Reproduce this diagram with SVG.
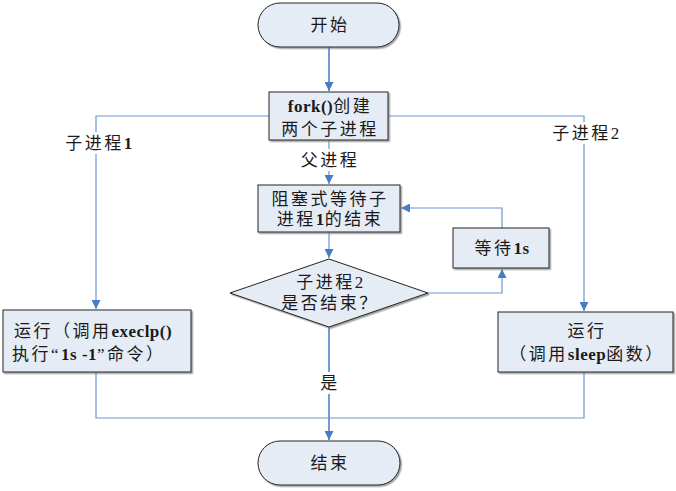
<svg xmlns="http://www.w3.org/2000/svg" width="676" height="491" viewBox="0 0 676 491">
<defs>
<marker id="ah" viewBox="0 0 10 10" refX="10" refY="5" markerWidth="9" markerHeight="9" markerUnits="userSpaceOnUse" orient="auto">
<path d="M0,0 L10,5 L0,10 z" fill="#4a7cc6"/>
</marker>
<filter id="sh" x="-5%" y="-5%" width="110%" height="115%">
<feDropShadow dx="1.5" dy="1.5" stdDeviation="0.5" flood-color="#777" flood-opacity="0.7"/>
</filter>
</defs>
<style>
.box{fill:#e6ecf6;stroke:#222;stroke-width:1;filter:url(#sh)}
.ln{fill:none;stroke:#6a96d4;stroke-width:1.2}
.mn{stroke:#4f81c8;stroke-width:1.6}
.t{font-family:"Liberation Serif","Noto Sans CJK SC",serif;font-size:17px;fill:#1a1a1a;text-anchor:middle;letter-spacing:2.5px}
.s{text-anchor:start}
.l{font-weight:bold;letter-spacing:0.5px}
.n{letter-spacing:0.5px}
.bg{fill:#fff}
</style>
<rect width="676" height="491" fill="#fff"/>
<g id="connectors">
<path class="ln mn" d="M329,47 V91" marker-end="url(#ah)"/>
<path class="ln" d="M269,116 H96 V309" marker-end="url(#ah)"/>
<path class="ln" d="M388,116 H584 V311" marker-end="url(#ah)"/>
<path class="ln" d="M329,140 V184" marker-end="url(#ah)"/>
<path class="ln" d="M329,232 V258" marker-end="url(#ah)"/>
<path class="ln" d="M428,293 H502 V269" marker-end="url(#ah)"/>
<path class="ln" d="M502,228 V208 H401" marker-end="url(#ah)"/>
<path class="ln mn" d="M329,327 V440" marker-end="url(#ah)"/>
<path class="ln" d="M96,372 V418 H584 V372"/>
<rect class="bg" x="58" y="132" width="80" height="22"/>
<text class="t" x="99" y="149">子进程<tspan class="l">1</tspan></text>
<rect class="bg" x="544" y="122" width="80" height="22"/>
<text class="t" x="586" y="139">子进程<tspan class="n">2</tspan></text>
<rect class="bg" x="298" y="149" width="62" height="22"/>
<text class="t" x="330" y="166">父进程</text>
<rect class="bg" x="318" y="372" width="22" height="22"/>
<text class="t" x="330" y="389">是</text>
</g>
<g id="start">
<rect class="box" x="258" y="3" width="141" height="44" rx="22"/>
<text class="t" x="330" y="31">开始</text>
</g>
<g id="fork">
<rect class="box" x="269" y="92" width="119" height="48"/>
<text class="t" x="330" y="112"><tspan class="l">fork()</tspan>创建</text>
<text class="t" x="330" y="135">两个子进程</text>
</g>
<g id="block">
<rect class="box" x="258" y="185" width="142" height="47"/>
<text class="t" x="330" y="205">阻塞式等待子</text>
<text class="t" x="330" y="225">进程<tspan class="l">1</tspan>的结束</text>
</g>
<g id="decision">
<polygon class="box" points="230,293 329,259 428,293 329,327"/>
<text class="t" x="330" y="288">子进程<tspan class="n">2</tspan></text>
<text class="t" x="330" y="309">是否结束？</text>
</g>
<g id="wait">
<rect class="box" x="453" y="228" width="96" height="40"/>
<text class="t" x="502" y="254">等待<tspan class="l">1s</tspan></text>
</g>
<g id="child1">
<rect class="box" x="3" y="310" width="188" height="62"/>
<text class="t s" x="14" y="337">运行（调用<tspan class="l">execlp()</tspan></text>
<text class="t s" x="12" y="360">执行“<tspan class="l">1s -1</tspan>”命令）</text>
</g>
<g id="child2">
<rect class="box" x="498" y="312" width="175" height="60"/>
<text class="t" x="587" y="337">运行</text>
<text class="t" x="587" y="360">（调用<tspan class="l">sleep</tspan>函数）</text>
</g>
<g id="end">
<rect class="box" x="258" y="441" width="142" height="44" rx="22"/>
<text class="t" x="330" y="469">结束</text>
</g>
</svg>
